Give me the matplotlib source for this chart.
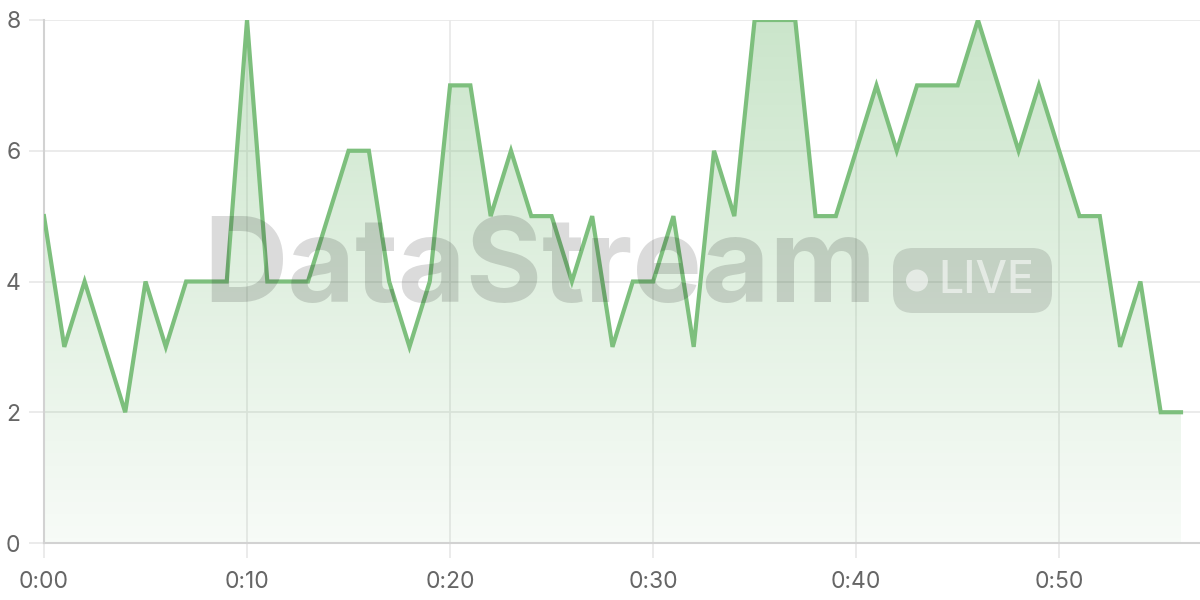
import matplotlib
matplotlib.use("Agg")
import matplotlib.pyplot as plt
import numpy as np
from matplotlib.patches import FancyBboxPatch, Circle
from matplotlib.colors import LinearSegmentedColormap

minutes = list(range(0, 57))
values = [5, 3, 4, 3, 2, 4, 3, 4, 4, 4,
          8, 4, 4, 4, 5, 6, 6, 4, 3, 4,
          7, 7, 5, 6, 5, 5, 4, 5, 3, 4,
          4, 5, 3, 6, 5, 8, 8, 8, 5, 5,
          6, 7, 6, 7, 7, 7, 8, 7, 6, 7,
          6, 5, 5, 3, 4, 2, 2]
xticks = [0, 10, 20, 30, 40, 50]
xtick_labels = ["0:00", "0:10", "0:20", "0:30", "0:40", "0:50"]
yticks = [0, 2, 4, 6, 8]

plt.rcParams['font.family'] = ['Inter', 'DejaVu Sans']

fig = plt.figure(figsize=(12, 6), dpi=100)
ax = fig.add_axes([44/1200, 57/600, (1200-44)/1200, (543-20)/600])

line_color = "#7dbf7d"
x = np.array(minutes)
y = np.array(values)
xmax = 56 * (1200 - 44) / (1181 - 44)

# gradient fill
poly = ax.fill_between(x, y, 0, color="none", lw=0)
cmap = LinearSegmentedColormap.from_list("g", [(0.49, 0.75, 0.49, 0.06), (0.49, 0.75, 0.49, 0.40)])
grad = np.linspace(0, 1, 256).reshape(-1, 1)
im = ax.imshow(grad, cmap=cmap, aspect="auto", extent=[0, 56, 0, 8], origin="lower", zorder=1)
path = poly.get_paths()[0]
im.set_clip_path(path, transform=ax.transData)

ax.plot(x, y, color=line_color, lw=3, zorder=3, solid_joinstyle="miter")

ax.set_xlim(0, xmax)
ax.set_ylim(0, 8)
ax.set_xticks(xticks)
ax.set_xticklabels(xtick_labels)
ax.set_yticks(yticks)
ax.grid(True, color="#e8e8e8", lw=1.2, zorder=0)
ax.set_axisbelow(True)
for s in ["top", "right"]:
    ax.spines[s].set_visible(False)
for s in ["left", "bottom"]:
    ax.spines[s].set_color("#d2d2d2")
    ax.spines[s].set_linewidth(1.5)
ax.tick_params(axis="both", colors="#e8e8e8", labelcolor="#666666", labelsize=16.5, length=11, width=1.2)
ax.tick_params(axis="x", pad=9)
ax.tick_params(axis="y", pad=6)

# watermark
fig.text(0.4495, 0.548, "DataStream", fontsize=84, fontweight="bold", color=(0, 0, 0, 0.14),
         ha="center", va="center", family=["Inter", "DejaVu Sans"])
box = FancyBboxPatch((8.93, 2.87), 1.59, 0.65,
                     boxstyle="round,pad=0,rounding_size=0.2", transform=fig.dpi_scale_trans,
                     facecolor=(0, 0, 0, 0.12), edgecolor="none")
fig.patches.append(box)
dot = Circle((9.17, 3.195), 0.11, transform=fig.dpi_scale_trans,
             facecolor=(1, 1, 1, 0.55), edgecolor="none")
fig.patches.append(dot)
fig.text(986/1200, (600-281)/600, "LIVE", fontsize=32, fontweight="medium", color=(1, 1, 1, 0.55),
         ha="center", va="center", family=["Inter", "DejaVu Sans"])

fig.savefig("out.png", dpi=100)
